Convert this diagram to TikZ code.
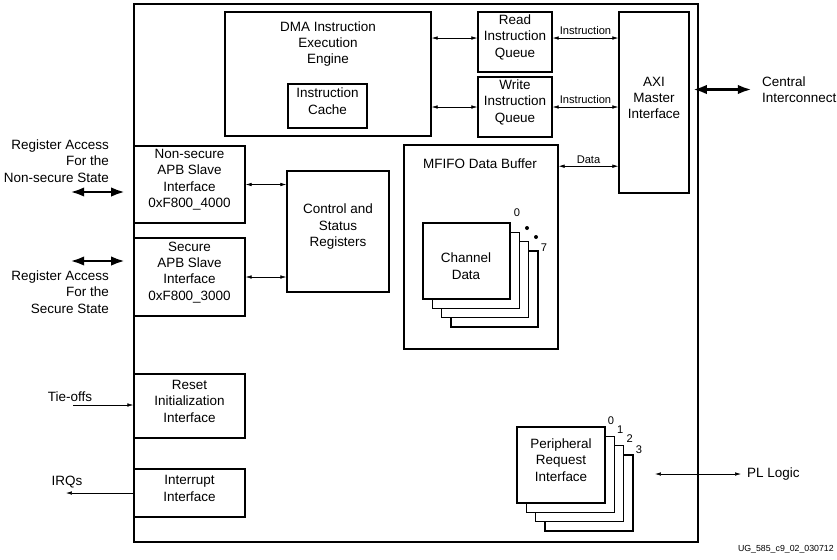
\documentclass[tikz,border=0pt]{standalone}
\usepackage{fontspec}
\setmainfont{Liberation Sans}
\usetikzlibrary{arrows.meta,fit}

\begin{document}
\begin{tikzpicture}[x=0.3mm, y=-0.3mm,
  box/.style={draw, line width=1.2pt, inner sep=0pt, align=center, font=\fontsize{11.5}{14}\selectfont},
  txt/.style={inner sep=0pt, align=center, font=\fontsize{11.5}{14}\selectfont},
  sml/.style={inner sep=0pt, font=\fontsize{9.5}{11}\selectfont},
  lnk/.style={line width=0.5pt, {Latex[length=5pt,width=3pt]}-{Latex[length=5pt,width=3pt]}},
  one/.style={line width=0.5pt, -{Latex[length=5pt,width=3pt]}},
  bus/.style={line width=2.4pt, {Latex[length=12pt,width=8pt]}-{Latex[length=12pt,width=8pt]}},
  layer/.style={line width=1.2pt, fill=white}]

\useasboundingbox (0,0) rectangle (837,559);

\node [box, fit={(134,4) (698,542)}] (dmac) {};

\node [box, fit={(225,12) (431,136)}] (engine) {};
\node [txt] (enginetxt) at (328,44) {DMA Instruction\\Execution\\Engine};
\node [box, fit={(288,84) (367,128)}] (icache) {Instruction\\Cache};

\node [box, fit={(478,12) (552,72)}] (rq) {Read\\Instruction\\Queue};
\node [box, fit={(478,77) (552,137)}] (wq) {Write\\Instruction\\Queue};
\node [box, fit={(619,12) (689,193)}] (axi) {AXI\\Master\\Interface};

\node [box, fit={(404,145) (558,349)}] (mfifo) {};
\node [txt] (mfifotxt) at (480,164) {MFIFO Data Buffer};

\foreach \k in {3,2,1}
  \draw [layer] ({423+9.3*\k},{223+9.3*\k}) rectangle +(87,76);
\node [box, fill=white, fit={(423,223) (510,299)}] (chan) {};
\node [txt] (chantxt) at (466,266) {Channel\\Data};
\node [sml] (ch0) at (517,213) {0};
\fill (527,228) circle [radius=2];
\fill (536,237) circle [radius=2];
\node [sml] (ch7) at (544,248) {7};

\node [box, fit={(134,146) (245,223)}] (nsapb) {Non-secure\\APB Slave\\Interface\\0xF800\_4000};
\node [box, fit={(134,238) (245,316)}] (sapb) {Secure\\APB Slave\\Interface\\0xF800\_3000};
\node [box, fit={(287,171) (389,292)}] (csr) {Control and\\Status\\Registers};
\node [box, fit={(134,374) (245,438)}] (reset) {Reset\\Initialization\\Interface};
\node [box, fit={(134,469) (245,517)}] (intr) {Interrupt\\Interface};

\foreach \k in {3,2,1}
  \draw [layer] ({517+9.3*\k},{427+9.3*\k}) rectangle +(88,76);
\node [box, fill=white, fit={(517,427) (605,503)}] (pri) {Peripheral\\Request\\Interface};
\foreach \k/\dy in {0/421,1/430,2/439,3/450}
  \node [sml] at ({611+9.3*\k},\dy) {\k};

\node [txt, align=right, anchor=east] (nslbl) at (109,161) {Register Access\\For the\\Non-secure State};
\node [txt, align=right, anchor=east] (slbl) at (109,292) {Register Access\\For the\\Secure State};
\node [txt] (tie) at (70,397) {Tie-offs};
\node [txt] (irq) at (67,482) {IRQs};
\node [txt, align=left, anchor=west] (central) at (762,89.5) {Central\\Interconnect};
\node [txt, anchor=west] (pl) at (747,474) {PL Logic};
\node [inner sep=0pt, anchor=east, font=\fontsize{7.5}{9}\selectfont] (docid) at (834,549) {UG\_585\_c9\_02\_030712};

\coordinate (rqlvl) at ([yshift=3.4pt]rq.west);
\draw [lnk] (rqlvl -| engine.east) -- (rqlvl);
\draw [lnk] (wq.west -| engine.east) -- (wq.west);
\draw [lnk] (rqlvl -| rq.east) -- (rqlvl -| axi.west) node [sml, midway, above=3pt] {Instruction};
\draw [lnk] (wq.east) -- (wq.east -| axi.west) node [sml, midway, above=3pt] {Instruction};
\coordinate (datalvl) at ([yshift=-18.7pt]mfifo.north east);
\draw [lnk] (datalvl) -- (datalvl -| axi.west) node [sml, midway, above=2pt] {Data};

\draw [lnk] (nsapb.east) -- (nsapb.east -| csr.west);
\draw [lnk] (sapb.east) -- (sapb.east -| csr.west);

\coordinate (nsext) at (70,192);
\coordinate (sext) at (70,261);
\draw [bus, shorten >=2.4mm] (nsext) -- (nsext -| dmac.west);
\draw [bus, shorten >=2.4mm] (sext) -- (sext -| dmac.west);
\draw [bus, shorten <=0.9mm, shorten >=3mm] (central.west -| axi.east) -- (central.west);

\coordinate (tiein) at (73,405);
\draw [one] (tiein) -- (tiein -| reset.west);
\coordinate (irqout) at (66,493);
\draw [one] (intr.west) -- (irqout);
\coordinate (plin) at (655,474);
\draw [lnk, shorten >=1.8mm] (plin) -- (pl.west);

\end{tikzpicture}
\end{document}
